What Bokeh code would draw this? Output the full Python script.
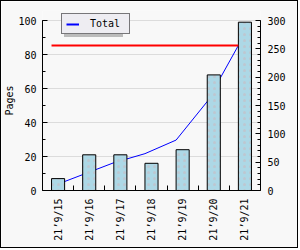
from math import pi
from bokeh.plotting import figure
from bokeh.models import (Range1d, LinearAxis, FixedTicker, SingleIntervalTicker,
                          Legend, LegendItem)
from bokeh.embed import file_html
from bokeh.resources import INLINE

# ---- data ----
categories = ["21’9/15", "21’9/16", "21’9/17", "21’9/18", "21’9/19", "21’9/20", "21’9/21"]
pages = [7, 21, 21, 16, 24, 68, 99]
total = [7, 28, 49, 65, 89, 157, 256]
total_level = 256
left_max = 100
right_max = 300

FONT = "DejaVu Sans Mono"
BG = "#F8F8F8"
BAR_W = 0.42
n = len(categories)
xc = [i + 0.5 for i in range(n)]
xl = [x - BAR_W / 2 for x in xc]

# frame is taller than the axes (room for the legend); axes are bounded
AXIS_PX = 170.0
FRAME_PX = 180.0
stretch = FRAME_PX / AXIS_PX

p = figure(width=298, height=248, output_backend="svg", toolbar_location=None,
           x_range=Range1d(0, n), y_range=Range1d(0, left_max * stretch),
           min_border_left=40, min_border_right=39, min_border_top=9, min_border_bottom=59)
p.styles = {"border": "1px solid black"}
p.extra_y_ranges = {"total": Range1d(0, right_max * stretch)}
p.background_fill_color = BG
p.border_fill_color = BG
p.outline_line_color = None

# x axis: labels at centres, small ticks at boundaries
p.xaxis.ticker = FixedTicker(ticks=xc, minor_ticks=list(range(1, n)))
p.xaxis.major_label_overrides = {x: c for x, c in zip(xc, categories)}
p.xaxis.major_label_orientation = pi / 2
p.xaxis.major_tick_in = 0
p.xaxis.major_tick_out = 0
p.xaxis.minor_tick_in = 5
p.xaxis.minor_tick_out = 0
p.xaxis.major_label_standoff = 8

# left axis
p.yaxis.ticker = SingleIntervalTicker(interval=20, num_minor_ticks=2)
p.yaxis.bounds = (0, left_max)
p.yaxis.axis_label = "Pages"
p.yaxis.axis_label_standoff = 0
p.yaxis.axis_label_text_font_style = "normal"
p.yaxis.major_tick_in = 5
p.yaxis.major_tick_out = 0
p.yaxis.minor_tick_in = 3
p.yaxis.minor_tick_out = 0
p.yaxis.major_label_standoff = 6

right = LinearAxis(y_range_name="total", bounds=(0, right_max),
                   ticker=SingleIntervalTicker(interval=50, num_minor_ticks=5))
right.major_tick_in = 5
right.major_tick_out = 0
right.minor_tick_in = 3
right.minor_tick_out = 0
right.major_label_standoff = 7
p.add_layout(right, "right")

for ax in [p.xaxis[0], p.yaxis[0], right]:
    ax.major_label_text_font = FONT
    ax.major_label_text_font_size = "10px"
    ax.major_label_text_color = "black"
    ax.axis_label_text_font = FONT
    ax.axis_label_text_font_size = "10px"
    ax.axis_label_text_color = "black"
    ax.axis_line_color = "black"
    ax.major_tick_line_color = "black"
    ax.minor_tick_line_color = "black"

p.xgrid.visible = False
p.ygrid.grid_line_color = "#DCDCDC"

# cumulative line (behind the bars)
blue = p.line(xl, total, y_range_name="total", line_color="blue", line_width=1)

# bars
p.vbar(x=xc, top=pages, width=BAR_W, bottom=0, fill_color="#ADD8E6",
       line_color="black", line_width=1,
       hatch_pattern="dot", hatch_color="#E0A0A0", hatch_alpha=0.3,
       hatch_scale=6, hatch_weight=1)

# total level line
p.line([xl[0], xl[-1]], [total_level, total_level], y_range_name="total",
       line_color="red", line_width=2)

# legend with shadow (single-point lines draw nothing but give the legend glyph style)
legend_glyph = p.line([xl[0]], [0], line_color="blue", line_width=2)
ghost = p.line([xl[0]], [0], line_alpha=0)
common = dict(margin=0, padding=4, glyph_width=13, glyph_height=10,
              label_height=10, label_width=35, label_standoff=11,
              label_text_font=FONT, label_text_font_size="10px")
shadow = Legend(items=[LegendItem(label=" ", renderers=[ghost])],
                location=(22, 153), label_text_alpha=0,
                background_fill_color="#BBBBBB", background_fill_alpha=1,
                border_line_color=None, **common)
legend = Legend(items=[LegendItem(label="Total", renderers=[legend_glyph])],
                location=(19, 156), label_text_color="black",
                background_fill_color="#EEEDF2", background_fill_alpha=1,
                border_line_color="black", border_line_width=1, **common)
p.add_layout(shadow)
p.add_layout(legend)

open("out.html", "w").write(file_html(p, INLINE))
